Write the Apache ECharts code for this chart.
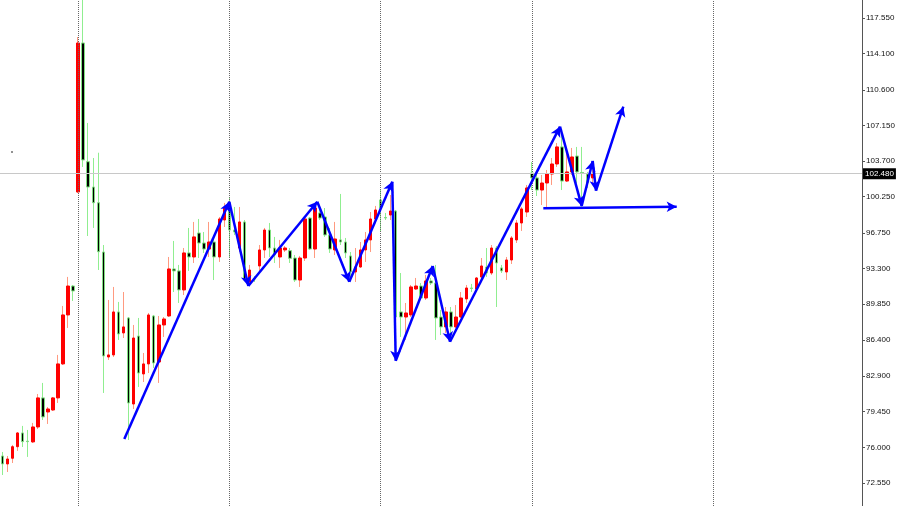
<!DOCTYPE html>
<html><head><meta charset="utf-8">
<script src="https://cdn.jsdelivr.net/npm/echarts@6/dist/echarts.min.js"></script>
<style>html,body{margin:0;padding:0;background:#fff}#c{width:900px;height:506px}</style>
</head><body><div id="c"></div><script>
// ---- data ----
const opens  = [75.16,74.39,74.94,76.06,77.39,76.60,76.52,77.97,80.78,79.42,79.61,80.78,84.07,88.81,91.61,100.71,115.13,103.64,101.19,99.67,
94.90,84.74,84.94,89.10,87.07,88.52,80.19,86.77,83.10,84.07,88.71,84.26,87.84,88.71,93.26,93.07,91.23,94.81,94.42,96.74,
95.77,95.19,95.87,94.42,98.00,99.35,97.03,95.29,97.81,92.00,92.34,93.55,95.10,97.03,95.29,94.42,95.10,95.03,94.32,92.19,
94.32,98.19,95.19,98.68,98.29,96.55,95.10,96.07,95.87,94.52,92.97,93.45,95.10,96.07,98.10,99.94,98.24,98.48,98.87,89.10,
88.61,88.81,91.32,91.61,90.45,92.10,91.90,88.61,87.65,89.10,87.65,88.61,90.36,91.42,91.32,92.48,93.45,92.87,95.29,93.36,
92.97,94.13,96.07,97.71,98.77,102.55,102.07,100.90,101.58,102.45,103.42,105.07,101.77,102.65,104.19,102.60,102.45,102.07];
const closes = [74.39,74.87,76.06,77.39,76.55,76.55,77.97,80.78,78.94,79.71,80.78,84.07,88.81,91.61,91.13,115.13,103.81,101.19,99.67,94.93,
84.84,84.94,89.10,86.97,87.65,80.29,86.58,83.19,84.07,88.81,84.16,87.84,88.42,93.26,93.07,91.23,94.81,94.42,96.36,95.77,
95.19,95.87,94.42,98.10,99.16,97.03,96.84,97.81,92.19,93.16,92.29,95.10,97.03,95.29,94.61,95.29,95.29,94.29,92.19,94.32,
98.10,95.19,99.16,98.19,96.55,95.19,96.16,95.87,94.81,92.97,93.45,95.10,96.07,98.10,98.97,99.16,98.19,98.87,88.61,88.61,
89.00,91.52,91.61,90.45,92.10,91.90,88.52,87.65,89.10,87.65,88.61,90.45,91.42,91.37,92.39,93.55,92.87,95.29,93.84,93.07,
94.13,96.26,97.71,99.07,101.10,102.07,100.90,101.58,102.45,103.42,105.07,101.77,102.65,104.10,102.65,102.55,101.58,102.48];
const lows   = [73.32,73.61,74.48,75.65,76.03,75.07,76.42,77.77,78.64,78.26,79.52,80.29,83.97,87.55,90.16,100.61,103.13,96.45,97.23,93.16,
81.26,84.45,84.74,86.39,86.58,76.71,79.71,81.84,82.32,83.19,83.68,82.23,86.68,88.61,91.03,89.97,90.74,93.07,93.84,94.32,
94.81,94.42,92.19,93.94,97.32,94.42,96.55,94.90,92.10,91.71,92.00,92.97,94.32,94.42,93.84,93.36,94.90,93.84,92.00,91.52,
94.03,95.10,94.32,98.00,96.36,94.81,94.61,95.58,94.32,92.19,92.00,93.36,93.94,94.90,97.71,96.84,98.00,98.00,84.45,86.68,
86.39,88.61,91.23,90.26,90.26,91.71,86.39,86.87,87.07,86.58,87.55,88.52,89.97,91.03,91.23,92.19,92.49,92.68,89.58,92.87,
92.19,93.74,95.77,96.94,98.29,100.90,100.32,99.45,99.16,101.39,103.13,100.90,101.68,102.36,101.58,99.26,101.10,101.39];
const highs  = [75.55,75.16,76.23,77.48,78.07,77.68,78.36,81.16,82.23,79.90,80.87,84.94,89.68,92.49,91.71,115.71,119.60,107.39,104.00,104.51,
95.58,90.26,91.52,90.07,91.03,88.61,87.84,88.52,85.13,89.00,88.81,88.71,88.61,94.42,95.97,93.65,95.29,97.23,97.81,98.10,
96.84,97.81,96.55,98.29,99.65,100.13,99.26,99.26,98.00,93.65,92.58,95.58,97.23,97.71,96.36,96.07,95.48,95.29,94.61,94.52,
98.29,98.29,99.65,99.26,99.16,97.23,97.81,100.52,96.26,94.90,95.29,95.87,96.84,98.77,99.36,100.90,98.68,100.42,98.97,92.87,
89.97,91.71,92.39,91.90,92.68,92.39,93.65,89.29,89.58,89.58,89.77,91.03,91.71,91.81,92.48,94.32,95.29,95.58,95.48,93.65,
94.42,96.45,98.00,99.26,101.39,103.61,102.36,102.36,102.84,104.00,105.45,106.71,104.77,104.97,105.07,105.07,102.65,102.84];
const totalSlots = 171;                       // bars + empty space to the right
const categories = Array.from({length: totalSlots}, (_, i) => 'Bar ' + (i + 1));
const yTickLabels = [72.55,76.00,79.45,82.90,86.40,89.85,93.30,96.75,100.25,103.70,107.15,110.60,114.10,117.55];
const yMin = 70.32, yMax = 119.29;
const currentPrice = 102.48;
const periodSeparators = [15, 45, 75, 105, 141];
// arrow drawings: [barIndexFrom, priceFrom, barIndexTo, priceTo]
const arrowSegments = [
  [24.16,76.81, 44.99,99.77],
  [44.99,99.77, 48.76,91.61],
  [48.76,91.61, 62.44,99.77],
  [62.44,99.77, 68.79,92.03],
  [68.79,92.03, 77.32,101.71],
  [77.32,101.71, 78.00,84.38],
  [78.00,84.38, 85.34,93.55],
  [85.34,93.55, 88.77,86.22],
  [88.77,86.22, 110.59,107.03],
  [110.59,107.03, 114.89,99.36],
  [114.89,99.36, 117.08,103.71],
  [117.08,103.71, 117.73,100.84],
  [117.73,100.84, 123.15,108.97],
  [107.28,99.13, 133.74,99.29]
];
const strayDot = [1.88, 104.58];

// ---- build ----
const wickData = opens.map((o, i) => [o, closes[i], lows[i], highs[i]]);
const bodyData = opens.map((o, i) => [o, closes[i], Math.min(o, closes[i]), Math.max(o, closes[i])]);

const chart = echarts.init(document.getElementById('c'), null, {renderer: 'canvas'});
chart.setOption({
  animation: false,
  backgroundColor: '#ffffff',
  grid: {left: 0, right: 38, top: 0, bottom: 0, containLabel: false},
  xAxis: [
    {type: 'category', data: categories, boundaryGap: true, show: false},
    {type: 'value', min: -0.5, max: totalSlots - 0.5, show: false}
  ],
  yAxis: {
    type: 'value', position: 'right', min: yMin, max: yMax, scale: true,
    splitLine: {show: false},
    axisLine: {show: true, onZero: false, lineStyle: {color: '#555', width: 1}},
    axisTick: {show: true, length: 3, customValues: yTickLabels, lineStyle: {color: '#555'}},
    axisLabel: {customValues: yTickLabels, formatter: v => v.toFixed(3), fontSize: 8,
      fontFamily: 'Liberation Sans', color: '#111', margin: 4}
  },
  series: [
    {
      type: 'scatter', xAxisIndex: 1, yAxisIndex: 0, z: 1,
      data: [strayDot], symbol: 'rect', symbolSize: 2, itemStyle: {color: '#777'}, silent: true,
      markLine: {
        silent: true, symbol: 'none', animation: false,
        data: periodSeparators.map(v => ({xAxis: v, lineStyle: {type: 'dotted', color: '#666', width: 1}, label: {show: false}}))
          .concat([{yAxis: currentPrice, lineStyle: {type: 'solid', color: '#c8c8c8', width: 1},
            label: {show: true, position: 'end', distance: 1, formatter: currentPrice.toFixed(3),
              color: '#fff', backgroundColor: '#000', padding: [2, 2, 1, 2], fontSize: 8, fontFamily: 'Liberation Sans'}}])
      }
    },
    {
      type: 'candlestick', name: 'wick', data: wickData, barWidth: 1, z: 2, silent: true,
      itemStyle: {color: '#ff9a80', color0: '#90ee90', borderColor: '#ff9a80', borderColor0: '#90ee90', borderWidth: 1}
    },
    {
      type: 'candlestick', name: 'body', data: bodyData, barWidth: 3, z: 3, silent: true,
      itemStyle: {color: '#ff0000', color0: '#000000', borderColor: '#ff0000', borderColor0: '#7fe07f', borderWidth: 1}
    },
    {
      type: 'scatter', xAxisIndex: 1, yAxisIndex: 0, z: 5, data: [], symbolSize: 0, silent: true,
      markLine: {
        silent: true, animation: false, symbol: ['none', 'arrow'], symbolSize: [8, 10],
        lineStyle: {color: '#0000ff', width: 2.5, type: 'solid'}, label: {show: false},
        data: arrowSegments.map(s => [{coord: [s[0], s[1]]}, {coord: [s[2], s[3]]}])
      }
    }
  ]
});
</script></body></html>
